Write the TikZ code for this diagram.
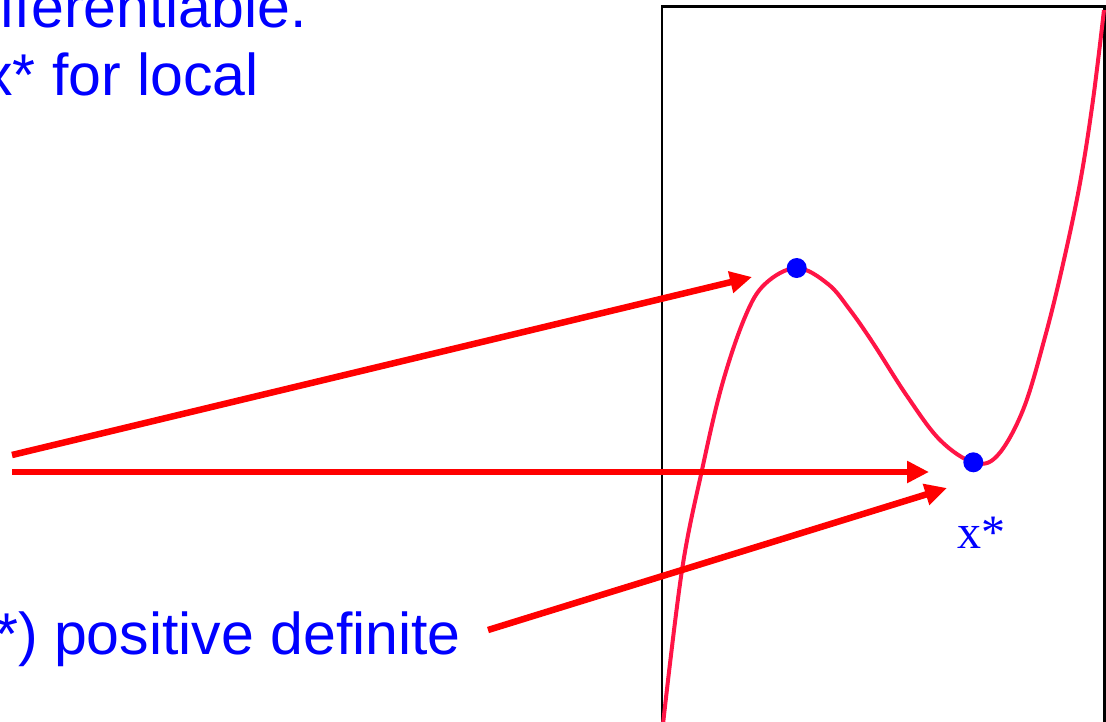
\documentclass[tikz,border=0pt]{standalone}
\usepackage{fontspec}
\setmainfont{Liberation Sans}
\newfontfamily\serifface{Liberation Serif}
\usetikzlibrary{arrows.meta}
\definecolor{txtblue}{RGB}{0,0,255}
\definecolor{arrred}{RGB}{255,0,0}
\definecolor{curvered}{RGB}{255,20,70}
\tikzset{
  lbl/.style={text=txtblue, inner sep=0pt, font=\fontsize{59}{68}\selectfont},
  ptr/.style={draw=arrred, line width=6.5pt, -{Triangle[length=22pt,width=21pt]}},
  dot/.style={circle, fill=txtblue, inner sep=0pt, minimum size=20pt},
  fcurve/.style={draw=curvered, line width=4pt},
  frame/.style={draw=black, line width=2.8pt}
}
\begin{document}
\begin{tikzpicture}[x=1pt,y=-1pt]
\useasboundingbox (0,0) rectangle (1106,721);
\clip (0,0) rectangle (1106,721);
% plot frame
\draw[frame] (662,725) -- (662,6.5) -- (1104.5,6.5) -- (1104.5,725);
% function curve
\draw[fcurve] plot[smooth, tension=0.6] coordinates {
 (663,724) (682,570) (702,470) (722,385) (745,317) (765,284) (796.7,268)
 (828,284) (850,310) (873,343) (907,396) (940,440) (973.3,462.3)
 (997,456) (1023,410) (1045,337) (1063,264) (1080,183) (1093,100) (1104,10)};
% points
\node[dot] (maxpt) at (796.7,268) {};
\node[dot] (minpt) at (973.3,462.3) {};
% texts
\node[lbl, anchor=base east] (line1) at (307,27) {fferentiable.};
\node[lbl, anchor=base east] (line2) at (259,95) {x* for local};
\node[lbl, anchor=base east] (line3) at (461,654) {*) positive definite};
\node[text=txtblue, inner sep=0pt, anchor=base west, font=\serifface\fontsize{48}{56}\selectfont] (xstar) at (957,548) {x*};
% arrows
\coordinate (s1) at (12,455);
\coordinate (t1) at (752,277);
\coordinate (s2) at (12,472);
\coordinate (t2) at (929,472);
\coordinate (s3) at (488,630);
\coordinate (t3) at (947,488);
\draw[ptr] (s1) -- (t1);
\draw[ptr] (s2) -- (t2);
\draw[ptr] (s3) -- (t3);
\end{tikzpicture}
\end{document}
